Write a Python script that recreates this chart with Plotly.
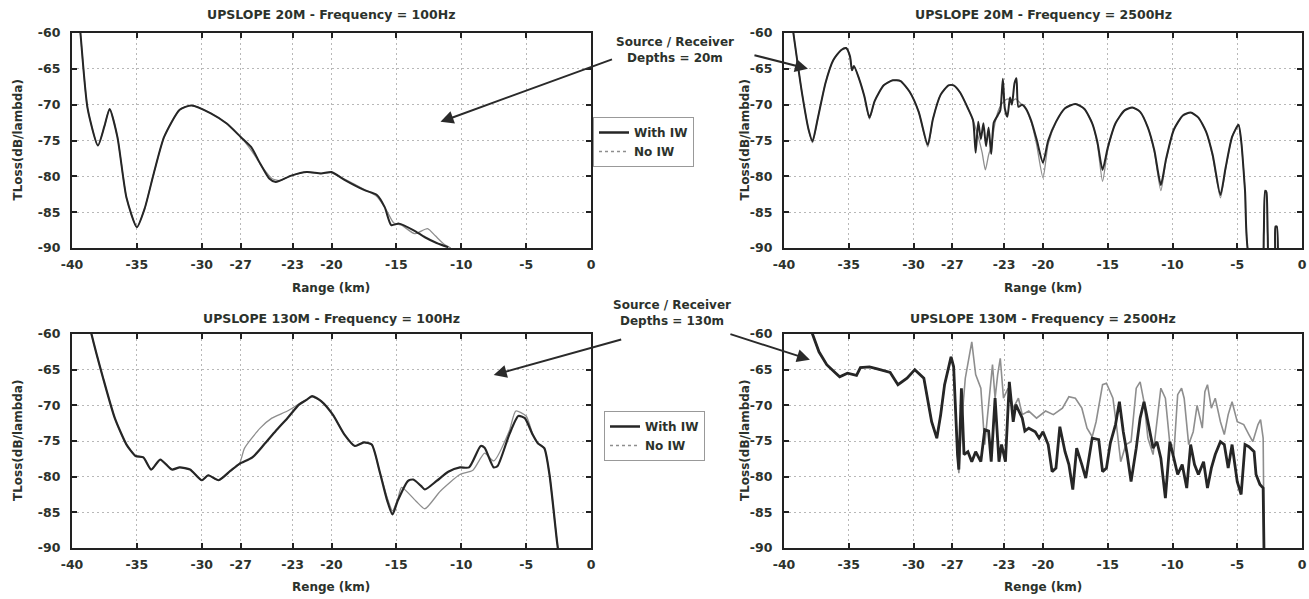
import plotly.graph_objects as go

# ---------------- data ----------------
x_ticks = [-40, -35, -30, -27, -23, -20, -15, -10, -5, 0]
y_ticks = [-90, -85, -80, -75, -70, -65, -60]

# Panel 1: UPSLOPE 20M - 100 Hz
p1_with_x = [-39.6, -39.35, -38.8, -38.0, -37.5, -37.1, -36.5, -35.8, -35.0, -34.4, -33.7, -32.9, -31.7, -30.8,
             -29.3, -28.1, -27.0, -26.2, -25.5, -24.8, -24.3, -23.1, -21.9, -20.8, -20.0, -19.0, -17.5, -16.5,
             -15.9, -15.4, -14.8, -13.7, -12.8, -11.9, -11.0]
p1_with_y = [-55, -60, -70.5, -75.7, -73.0, -70.6, -74.5, -83.0, -87.1, -84.5, -79.6, -74.5, -70.7, -70.1,
             -71.2, -72.6, -74.5, -75.9, -78.2, -80.3, -80.8, -79.9, -79.4, -79.6, -79.4, -80.5, -81.9, -82.6,
             -84.3, -86.8, -86.6, -87.5, -88.5, -89.3, -89.9]
p1_no_x = [-39.6, -39.35, -38.8, -38.0, -37.5, -37.1, -36.5, -35.8, -35.0, -34.4, -33.7, -32.9, -31.7, -30.8,
           -29.3, -28.1, -27.0, -26.1, -25.3, -24.6, -24.0, -23.1, -21.9, -20.8, -20.0, -19.0, -17.5, -16.5,
           -15.8, -15.2, -14.6, -13.6, -12.6, -12.0, -11.3, -10.8]
p1_no_y = [-55, -60, -70.5, -75.7, -73.0, -70.6, -74.5, -83.0, -87.1, -84.5, -79.6, -74.5, -70.7, -70.1,
           -71.2, -72.6, -74.5, -76.6, -78.8, -80.3, -80.6, -79.9, -79.4, -79.6, -79.5, -80.4, -81.8, -82.8,
           -84.6, -86.5, -86.8, -88.0, -87.3, -88.3, -89.5, -90.0]

# Panel 2: UPSLOPE 20M - 2500 Hz
p2_with_x = [-39.5, -39.2, -38.6, -38.1, -37.8, -37.4, -36.8, -36.2, -35.6, -35.2, -34.9, -34.75, -34.6, -34.2,
             -33.8, -33.4, -33.0, -32.3, -31.6, -31.0, -30.3, -29.6, -28.9, -28.5, -27.9, -27.3, -26.9, -26.4,
             -25.8, -25.4, -25.2, -25.0, -24.8, -24.6, -24.4, -24.2, -24.0, -23.8, -23.5, -23.3, -23.1, -22.95,
             -22.75, -22.55, -22.4, -22.2, -22.05, -21.9, -21.6, -21.3, -20.9, -20.5, -20.0, -19.6, -19.0, -18.3,
             -17.5, -16.8, -16.2, -15.8, -15.4, -15.0, -14.4, -13.7, -13.1, -12.5, -11.9, -11.4, -10.9, -10.5,
             -9.9, -9.2, -8.6, -8.0, -7.4, -6.9, -6.3, -5.9, -5.4, -4.9, -4.7, -4.4, -4.1, -3.1, -2.95, -2.85,
             -2.75, -2.65, -2.5, -2.15, -2.05, -1.95, -1.85]
p2_with_y = [-57, -61, -68.5, -73.5, -75.1, -72.0, -67.0, -63.8, -62.4, -62.1, -63.3, -65.2, -64.6, -66.4,
             -68.8, -71.8, -69.5, -67.3, -66.6, -66.7, -68.2, -71.0, -75.6, -72.0, -68.6, -67.3, -67.3, -68.3,
             -70.5, -72.2, -76.7, -72.4, -74.8, -72.6, -75.8, -73.2, -76.9, -72.5, -71.5, -70.8, -66.4, -70.5,
             -71.7, -69.0, -70.0, -67.0, -66.3, -70.3, -70.0, -70.6, -72.3, -74.8, -78.1, -75.0, -72.4, -70.5,
             -69.9, -70.6, -72.6, -75.2, -79.1, -76.0, -72.6, -70.8, -70.4, -71.0, -73.2, -76.4, -81.2, -77.6,
             -73.5, -71.5, -71.1, -71.8, -73.8, -77.0, -82.6, -78.8, -74.5, -72.8, -75.0, -82.0, -91.0, -93.0,
             -88.0, -82.0, -82.2, -88.0, -93.0, -93.0, -87.0, -87.0, -93.0]
p2_no_x = [-39.5, -39.2, -38.6, -38.1, -37.8, -37.4, -36.8, -36.2, -35.6, -35.2, -34.9, -34.75, -34.6, -34.2,
           -33.8, -33.4, -33.0, -32.3, -31.6, -31.0, -30.3, -29.6, -28.9, -28.5, -27.9, -27.3, -26.9, -26.4,
           -25.8, -25.4, -25.0, -24.7, -24.45, -24.2, -24.0, -23.7, -23.4, -23.0, -22.7, -22.4, -22.1, -21.75,
           -21.4, -20.9, -20.5, -20.0, -19.6, -19.0, -18.3, -17.5, -16.8, -16.2, -15.8, -15.4, -15.0, -14.4,
           -13.7, -13.1, -12.5, -11.9, -11.4, -10.9, -10.5, -9.9, -9.2, -8.6, -8.0, -7.4, -6.9, -6.3, -5.9,
           -5.4, -4.9, -4.7, -4.4, -4.1, -3.1, -2.95, -2.85, -2.75, -2.65, -2.5, -2.15, -2.05, -1.95, -1.85]
p2_no_y = [-57, -61, -68.5, -73.5, -75.3, -72.0, -67.0, -63.8, -62.4, -62.1, -63.3, -65.2, -64.6, -66.4,
           -68.8, -72.0, -69.5, -67.3, -66.6, -66.7, -68.2, -71.0, -75.9, -72.0, -68.6, -67.3, -67.3, -68.3,
           -70.5, -72.2, -74.5, -76.7, -79.1, -77.0, -75.8, -72.5, -70.6, -69.5, -69.2, -69.5, -69.2, -69.8,
           -70.4, -72.5, -75.5, -80.2, -75.5, -72.5, -70.5, -69.9, -70.6, -72.6, -75.5, -80.7, -76.3, -72.6,
           -70.8, -70.4, -71.0, -73.2, -76.6, -82.0, -77.8, -73.5, -71.5, -71.1, -71.8, -73.8, -77.2, -83.0,
           -79.0, -74.5, -72.8, -75.0, -82.0, -91.0, -93.0, -88.0, -82.2, -82.0, -88.0, -93.0, -93.0, -87.2,
           -87.0, -93.0]

# Panel 3: UPSLOPE 130M - 100 Hz
p3_with_x = [-38.8, -38.5, -37.6, -36.7, -35.8, -35.1, -34.5, -33.9, -33.2, -32.3, -31.7, -30.9, -30.0, -29.5,
             -28.7, -27.8, -27.1, -26.1, -25.2, -24.3, -23.4, -22.5, -21.9, -21.5, -20.8, -19.9, -19.0, -18.2,
             -17.5, -16.9, -16.3, -15.7, -15.3, -14.9, -14.1, -13.7, -13.1, -12.8, -11.9, -11.0, -10.1, -9.4,
             -8.5, -8.2, -7.5, -7.2, -6.3, -5.6, -5.1, -4.5, -4.1, -3.6, -3.2, -2.6, -2.4]
p3_with_y = [-57.5, -60, -66.2, -71.8, -75.5, -77.1, -77.3, -79.0, -77.6, -79.0, -78.7, -79.0, -80.5, -79.8,
             -80.5, -79.2, -78.2, -77.3, -75.5, -73.6, -71.8, -69.9, -69.2, -68.7, -69.4, -71.3, -74.1, -75.7,
             -75.2, -75.5, -79.2, -83.4, -85.3, -83.4, -80.6, -80.4, -81.3, -81.8, -80.6, -79.3, -78.7, -78.7,
             -75.7, -75.95, -78.7, -78.5, -74.1, -71.5, -71.8, -74.1, -75.3, -76.0, -79.7, -89.4, -92.0]
p3_no_x = [-38.8, -38.5, -37.6, -36.7, -35.8, -35.1, -34.5, -33.9, -33.2, -32.3, -31.7, -30.9, -30.0, -29.5,
           -28.7, -27.8, -27.1, -26.7, -25.5, -24.6, -23.4, -22.5, -21.9, -21.5, -20.8, -19.9, -19.0, -18.2,
           -17.5, -16.9, -16.3, -15.7, -15.3, -14.9, -14.6, -13.5, -12.8, -11.6, -10.1, -9.1, -8.2, -7.5,
           -6.3, -5.8, -5.0, -4.5, -4.1, -3.6, -3.2, -2.6, -2.4]
p3_no_y = [-57.5, -60, -66.2, -71.8, -75.5, -77.1, -77.3, -79.0, -77.6, -79.0, -78.7, -79.0, -80.5, -79.8,
           -80.5, -79.2, -78.2, -76.0, -73.2, -71.8, -70.8, -69.8, -69.2, -68.8, -69.4, -71.3, -74.1, -75.7,
           -75.2, -75.5, -79.2, -83.0, -84.8, -83.2, -81.5, -83.4, -84.5, -82.0, -79.7, -79.1, -76.7, -77.8,
           -73.6, -70.8, -71.5, -74.0, -75.3, -76.0, -79.7, -89.4, -92.0]

# Panel 4: UPSLOPE 130M - 2500 Hz
p4_with_x = [-38.0, -37.8, -37.3, -36.7, -36.0, -35.7, -35.1, -34.4, -34.1, -33.4, -32.8, -31.8, -31.2, -30.5,
             -29.9, -29.2, -28.6, -28.2, -27.9, -27.6, -27.1, -26.9, -26.6, -26.5, -26.3, -26.1, -25.8, -25.5,
             -25.2, -24.8, -24.5, -24.2, -24.0, -23.7, -23.4, -23.2, -22.9, -22.6, -22.3, -22.1, -21.6, -21.4,
             -21.1, -20.6, -20.3, -20.0, -19.6, -19.3, -19.0, -18.7, -18.3, -18.0, -17.7, -17.4, -17.0, -16.7,
             -16.2, -15.7, -15.4, -15.1, -14.8, -14.4, -14.1, -13.8, -13.5, -13.2, -12.8, -12.5, -12.2, -11.9,
             -11.5, -11.2, -10.9, -10.55, -10.2, -9.9, -9.6, -9.25, -8.9, -8.6, -8.3, -8.0, -7.6, -7.3, -7.0,
             -6.7, -6.3, -6.0, -5.7, -5.4, -5.0, -4.7, -4.4, -4.1, -3.7, -3.55, -3.25, -3.0, -2.9]
p4_with_y = [-58.5, -60, -62.5, -64.3, -65.5, -66.0, -65.5, -65.8, -64.7, -64.6, -64.9, -65.4, -67.1, -66.2,
             -65.0, -66.2, -72.3, -74.6, -71.3, -67.1, -63.2, -64.6, -76.9, -79.0, -67.6, -76.9, -76.5, -77.9,
             -76.5, -77.9, -73.4, -73.6, -77.9, -69.0, -77.9, -75.5, -77.9, -66.7, -72.3, -69.9, -71.8, -73.6,
             -73.2, -73.7, -74.6, -73.7, -75.5, -79.3, -78.8, -73.0, -76.5, -78.3, -81.8, -76.0, -78.3, -80.2,
             -74.6, -74.8, -79.3, -78.8, -75.3, -72.7, -69.5, -73.7, -76.9, -80.7, -76.0, -71.8, -69.5, -72.3,
             -76.0, -75.1, -77.4, -83.0, -75.1, -77.4, -79.7, -78.3, -81.6, -75.5, -78.3, -79.7, -77.9, -81.6,
             -78.8, -76.9, -75.1, -75.5, -78.8, -75.5, -80.7, -82.5, -75.5, -75.8, -76.5, -79.7, -81.1, -81.6,
             -95.0]
p4_no_x = [-38.0, -37.8, -37.3, -36.7, -36.0, -35.7, -35.1, -34.4, -34.1, -33.4, -32.8, -31.8, -31.2, -30.5,
           -29.9, -29.2, -28.6, -28.2, -27.9, -27.6, -27.1, -26.9, -26.6, -26.5, -26.3, -26.0, -25.5, -25.2,
           -24.8, -24.5, -24.2, -23.9, -23.7, -23.5, -23.3, -23.05, -22.7, -22.3, -21.9, -21.6, -21.1, -20.5,
           -19.8, -19.2, -18.5, -18.0, -17.5, -17.0, -16.6, -16.2, -15.9, -15.4, -15.1, -14.6, -14.3, -14.0,
           -13.6, -13.2, -12.8, -12.5, -12.2, -11.9, -11.5, -11.2, -10.9, -10.55, -10.2, -9.9, -9.6, -9.3,
           -9.1, -8.75, -8.4, -8.1, -7.7, -7.5, -7.3, -7.0, -6.7, -6.3, -6.0, -5.7, -5.4, -5.0, -4.5, -4.1,
           -3.8, -3.4, -3.2, -3.0, -2.9]
p4_no_y = [-58.5, -60, -62.5, -64.3, -65.5, -66.0, -65.5, -65.8, -64.7, -64.6, -64.9, -65.4, -67.1, -66.2,
           -65.0, -66.2, -72.3, -74.6, -71.3, -67.1, -63.2, -64.6, -76.9, -79.5, -72.7, -66.2, -61.1, -65.7,
           -67.6, -75.5, -69.9, -64.3, -69.0, -65.7, -63.4, -69.0, -67.6, -70.4, -69.0, -71.3, -70.8, -71.8,
           -70.8, -71.3, -70.4, -68.8, -69.0, -70.4, -73.2, -74.4, -72.3, -67.1, -66.9, -69.0, -73.2, -77.9,
           -75.5, -75.1, -67.6, -66.7, -69.5, -74.6, -76.9, -72.3, -67.6, -69.0, -75.5, -76.9, -68.5, -67.6,
           -69.0, -75.5, -73.7, -70.0, -73.2, -68.1, -67.1, -70.4, -69.0, -72.3, -74.1, -71.3, -69.5, -72.3,
           -72.7, -74.1, -75.1, -72.7, -72.0, -74.6, -95.0]

series_names = ["With IW", "No IW"]
titles = ["UPSLOPE 20M - Frequency = 100Hz", "UPSLOPE 20M - Frequency = 2500Hz",
          "UPSLOPE 130M - Frequency = 100Hz", "UPSLOPE 130M - Frequency = 2500Hz"]
x_titles = ["Range (km)", "Range (km)", "Renge (km)", "Renge (km)"]
y_title = "TLoss(dB/lambda)"
note_20 = "Source / Receiver<br>Depths = 20m"
note_130 = "Source / Receiver<br>Depths = 130m"

# ---------------- style ----------------
FONT = "DejaVu Sans"
TXT = "#2c322c"
WITH_C = "#262626"
NO_C = "#8e8e8e"
W, H = 1309, 599

fig = go.Figure()

panels = [
    (p1_with_x, p1_with_y, p1_no_x, p1_no_y, "x", "y", 2.0, 1.3, "spline"),
    (p2_with_x, p2_with_y, p2_no_x, p2_no_y, "x2", "y2", 2.0, 1.3, "spline"),
    (p3_with_x, p3_with_y, p3_no_x, p3_no_y, "x3", "y3", 2.2, 1.3, "spline"),
    (p4_with_x, p4_with_y, p4_no_x, p4_no_y, "x4", "y4", 2.8, 1.6, "linear"),
]
for wx, wy, nx, ny, xa, ya, ww, nw, shape in panels:
    fig.add_trace(go.Scatter(x=nx, y=ny, xaxis=xa, yaxis=ya, mode="lines", showlegend=False,
                             line=dict(color=NO_C, width=nw, shape=shape, smoothing=0.6)))
    fig.add_trace(go.Scatter(x=wx, y=wy, xaxis=xa, yaxis=ya, mode="lines", showlegend=False,
                             line=dict(color=WITH_C, width=ww, shape=shape, smoothing=0.6)))

# legend-only entries
for lg in ["legend", "legend2"]:
    fig.add_trace(go.Scatter(x=[None], y=[None], mode="lines", name=series_names[0], legend=lg,
                             line=dict(color=WITH_C, width=2.5)))
    fig.add_trace(go.Scatter(x=[None], y=[None], mode="lines", name=series_names[1], legend=lg,
                             line=dict(color=NO_C, width=1.5, dash="dot")))

xl = [72 / W, 591 / W]
xr = [784 / W, 1302 / W]
yt = [1 - 248 / H, 1 - 33 / H]
yb = [1 - 548 / H, 1 - 334 / H]

tickfont = dict(family=FONT, size=12.5, color=TXT, weight="bold")
titlefont = dict(family=FONT, size=12, color=TXT, weight="bold")

common = dict(tickmode="array", tickfont=tickfont, ticks="inside", ticklen=5, tickwidth=2,
              tickcolor="#222", showline=True, linewidth=2.2, linecolor="#222", mirror="ticks",
              showgrid=True, gridcolor="#b8b8b8", gridwidth=1, griddash="2px,3px", zeroline=False,
              automargin=False, ticklabeloverflow="allow")


def xaxis(dom, anchor):
    return dict(domain=dom, anchor=anchor, range=[-40, 0], tickvals=x_ticks,
                ticktext=[str(v) for v in x_ticks], ticklabelstandoff=4, **common)


def yaxis(dom, anchor):
    return dict(domain=dom, anchor=anchor, range=[-90, -60], tickvals=y_ticks,
                ticktext=[str(v) for v in y_ticks], ticklabelstandoff=7, **common)


fig.update_layout(
    width=W, height=H, margin=dict(l=0, r=0, t=0, b=0),
    paper_bgcolor="white", plot_bgcolor="white",
    xaxis=xaxis(xl, "y"), yaxis=yaxis(yt, "x"),
    xaxis2=xaxis(xr, "y2"), yaxis2=yaxis(yt, "x2"),
    xaxis3=xaxis(xl, "y3"), yaxis3=yaxis(yb, "x3"),
    xaxis4=xaxis(xr, "y4"), yaxis4=yaxis(yb, "x4"),
    legend=dict(x=593 / W, y=1 - 117 / H, xanchor="left", yanchor="top", bgcolor="white",
                bordercolor="#999", borderwidth=1, font=dict(family=FONT, size=12, color=TXT, weight="bold"),
                tracegroupgap=0, itemwidth=30),
    legend2=dict(x=604 / W, y=1 - 411 / H, xanchor="left", yanchor="top", bgcolor="white",
                 bordercolor="#999", borderwidth=1, font=dict(family=FONT, size=12, color=TXT, weight="bold"),
                 tracegroupgap=0, itemwidth=30),
    showlegend=True,
)

xcen = [(xl[0] + xl[1]) / 2, (xr[0] + xr[1]) / 2] * 2
# subplot titles
for t, xc, yc in zip(titles, xcen, [1 - 14 / H, 1 - 14 / H, 1 - 318 / H, 1 - 318 / H]):
    fig.add_annotation(text=t, x=xc, y=yc, xref="paper", yref="paper", showarrow=False,
                       xanchor="center", yanchor="middle",
                       font=dict(family=FONT, size=12.5, color=TXT, weight="bold"))
# x-axis titles
for t, xc, yc in zip(x_titles, xcen, [1 - 288 / H, 1 - 288 / H, 1 - 587 / H, 1 - 587 / H]):
    fig.add_annotation(text=t, x=xc, y=yc, xref="paper", yref="paper", showarrow=False,
                       xanchor="center", yanchor="middle", font=titlefont)
# y-axis titles
for xc, yc in zip([18 / W, 745 / W, 18 / W, 745 / W],
                  [(yt[0] + yt[1]) / 2, (yt[0] + yt[1]) / 2, (yb[0] + yb[1]) / 2, (yb[0] + yb[1]) / 2]):
    fig.add_annotation(text=y_title, x=xc, y=yc, xref="paper", yref="paper", showarrow=False,
                       textangle=-90, xanchor="center", yanchor="middle", font=titlefont)

# notes
fig.add_annotation(text=note_20, x=675 / W, y=1 - 50 / H, xref="paper", yref="paper", showarrow=False,
                   xanchor="center", yanchor="middle", align="center",
                   font=dict(family=FONT, size=12, color=TXT, weight="bold"))
fig.add_annotation(text=note_130, x=672 / W, y=1 - 313 / H, xref="paper", yref="paper", showarrow=False,
                   xanchor="center", yanchor="middle", align="center",
                   font=dict(family=FONT, size=12, color=TXT, weight="bold"))

arrow = dict(showarrow=True, arrowhead=2, arrowsize=1.3, arrowwidth=2, arrowcolor="#2a2a2a", text="")
fig.add_annotation(x=-11.6, y=-72.4, xref="x", yref="y", ax=173, ay=-63, **arrow)
fig.add_annotation(x=-38.15, y=-65.0, xref="x2", yref="y2", ax=-55, ay=-14, **arrow)
fig.add_annotation(x=-7.5, y=-65.75, xref="x3", yref="y3", ax=129, ay=-36, **arrow)
fig.add_annotation(x=-38.0, y=-63.6, xref="x4", yref="y4", ax=-81, ay=-26, **arrow)

fig.write_html("out.html", config={"displayModeBar": False},
               post_script="document.body.style.margin='0';document.body.style.overflow='hidden';")
